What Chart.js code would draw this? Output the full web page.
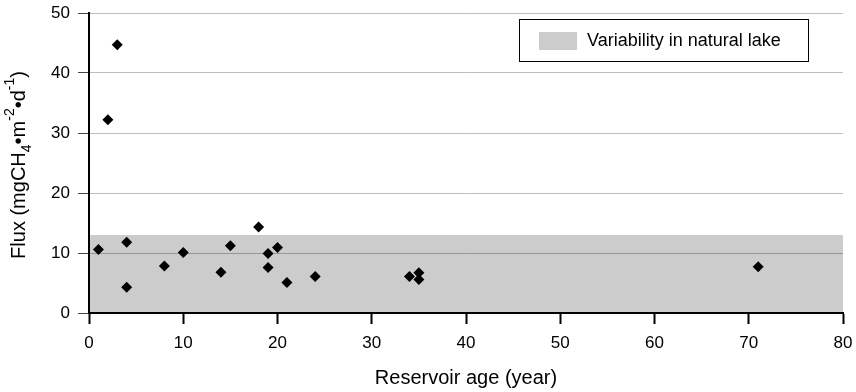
<!DOCTYPE html>
<html>
<head>
<meta charset="utf-8">
<script src="https://cdn.jsdelivr.net/npm/chart.js@4/dist/chart.umd.min.js"></script>
<style>
  html, body { margin: 0; padding: 0; background: #fff; }
  #chart { display: block; }
</style>
</head>
<body>
<canvas id="chart" width="856" height="392"></canvas>
<script>
// reservoir age (years) vs CH4 flux
const ages   = [1, 2, 3, 4, 4, 8, 10, 14, 15, 18, 19, 19, 20, 21, 24, 34, 35, 35, 71];
const fluxes = [10.6, 32.2, 44.7, 11.8, 4.3, 7.85, 10.1, 6.8, 11.2, 14.35, 9.9, 7.6, 10.9, 5.1, 6.1, 6.1, 6.7, 5.6, 7.7];

// natural lake band
const bandAges = [0, 80];
const bandTop  = [13, 13];
const bandLabel = 'Variability in natural lake';

const xTicks = [0, 10, 20, 30, 40, 50, 60, 70, 80];
const yTicks = [0, 10, 20, 30, 40, 50];

const FONT = "'Liberation Sans', Arial, sans-serif";

const legendBox = {
    id: 'legendBox',
    afterDraw(chart) {
        const c = chart.ctx;
        c.save();
        c.fillStyle = '#fff';
        c.fillRect(519.5, 19.5, 289, 42);
        c.strokeStyle = '#000';
        c.lineWidth = 1;
        c.strokeRect(519.5, 19.5, 289, 42);
        c.fillStyle = '#cccccc';
        c.fillRect(539, 32, 38, 18);
        c.fillStyle = '#000';
        c.font = '18px ' + FONT;
        c.textBaseline = 'middle';
        c.fillText(bandLabel, 587, 41);
        c.restore();
    }
};

// y title with subscript / superscripts
const yTitle = {
    id: 'yTitle',
    afterDraw(chart) {
        const parts = [['Flux (mgCH', 0], ['4', 1], ['\u2022m', 0], ['-2', -1], ['\u2022d', 0], ['-1', -1], [')', 0]];
        const c = chart.ctx, a = chart.chartArea;
        c.save();
        const big = '20px ' + FONT, small = '14px ' + FONT;
        let w = 0;
        parts.forEach(p => { c.font = p[1] ? small : big; w += c.measureText(p[0]).width; });
        c.translate(25, (a.top + a.bottom) / 2 + 2);
        c.rotate(-Math.PI / 2);
        c.fillStyle = '#000';
        c.textBaseline = 'alphabetic';
        let x = -w / 2;
        parts.forEach(p => {
            c.font = p[1] ? small : big;
            const dy = p[1] === 1 ? 6 : (p[1] === -1 ? -11 : 0);
            c.fillText(p[0], x, dy);
            x += c.measureText(p[0]).width;
        });
        c.restore();
    }
};

new Chart(document.getElementById('chart'), {
    data: {
        datasets: [
            {
                type: 'line',
                label: bandLabel,
                data: bandAges.map((x, i) => ({ x, y: bandTop[i] })),
                fill: 'origin',
                backgroundColor: 'rgba(0,0,0,0.2)',
                borderWidth: 0,
                pointRadius: 0,
                order: 2
            },
            {
                type: 'scatter',
                label: 'Reservoirs',
                data: ages.map((x, i) => ({ x, y: fluxes[i] })),
                pointStyle: 'rectRot',
                pointRadius: 5.5,
                borderWidth: 0,
                backgroundColor: '#000',
                borderColor: '#000',
                order: 1
            }
        ]
    },
    options: {
        responsive: false,
        devicePixelRatio: 1,
        animation: false,
        layout: { padding: { top: 13, right: 13, bottom: 2, left: 0 } },
        plugins: { legend: { display: false }, tooltip: { enabled: false } },
        scales: {
            x: {
                type: 'linear',
                min: 0, max: 80,
                afterBuildTicks: s => { s.ticks = xTicks.map(v => ({ value: v })); },
                afterFit: s => { s.height = 77; s.paddingLeft = 0; s.paddingRight = 0; },
                border: { color: '#000', width: 2 },
                grid: { drawOnChartArea: false, drawTicks: true, tickLength: 11, tickColor: '#000', tickWidth: 2 },
                ticks: { color: '#000', font: { family: FONT, size: 17 }, padding: 9, maxRotation: 0 },
                title: { display: true, text: 'Reservoir age (year)', color: '#000', font: { family: FONT, size: 20 }, padding: 0 }
            },
            y: {
                type: 'linear',
                min: 0, max: 50,
                afterBuildTicks: s => { s.ticks = yTicks.map(v => ({ value: v })); },
                afterFit: s => { s.width = 89; s.paddingTop = 0; s.paddingBottom = 0; },
                border: { color: '#000', width: 2 },
                grid: { color: '#bdbdbd', lineWidth: 1, drawTicks: true, tickLength: 11, tickColor: '#444' },
                ticks: { color: '#000', font: { family: FONT, size: 17 }, padding: 8 }
            }
        }
    },
    plugins: [legendBox, yTitle]
});
</script>
</body>
</html>
